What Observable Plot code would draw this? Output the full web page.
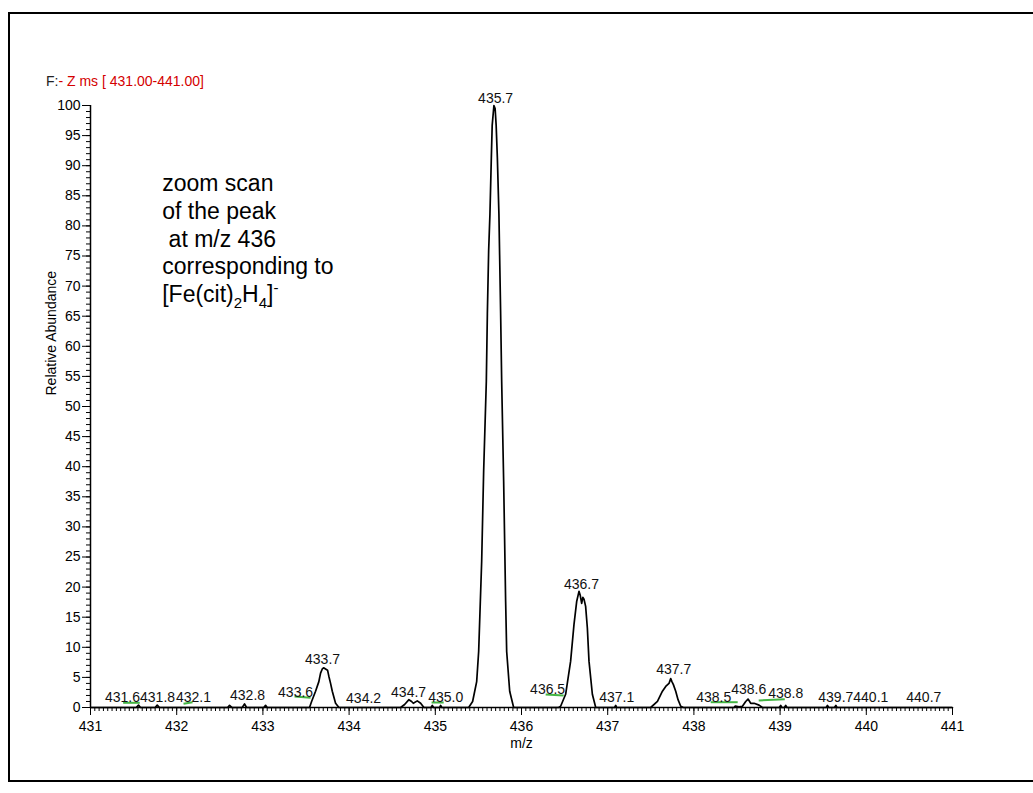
<!DOCTYPE html>
<html><head><meta charset="utf-8">
<script src="https://cdn.jsdelivr.net/npm/d3@7"></script>
<script src="https://cdn.jsdelivr.net/npm/@observablehq/plot@0.6"></script>
<style>
html,body{margin:0;padding:0;background:#fff;overflow:hidden;width:1033px;height:793px;}
#frame{position:absolute;left:8px;top:12px;width:1100px;height:770px;border:2px solid #000;box-sizing:border-box;}
#title{position:absolute;left:46px;top:73px;font:14px "Liberation Sans",Arial,sans-serif;white-space:pre;line-height:16px;}
#chart{position:absolute;left:0;top:90px;}
svg text{white-space:pre;}
</style></head><body>
<div id="frame"></div>
<div id="title"><span style="color:#222">F:</span><span style="color:#d40000">- Z ms [ 431.00-441.00]</span></div>
<div id="chart"></div>
<script>
// spectrum trace (m/z, relative abundance)
const traceMz = [431.00,431.53,431.557,431.58,431.75,431.774,431.80,432.59,432.613,432.64,432.76,432.787,432.81,433.01,433.031,433.05,
433.541,433.565,433.611,433.649,433.669,433.689,433.704,433.727,433.750,433.765,433.785,433.805,433.843,433.882,
434.598,434.644,434.694,434.725,434.745,434.791,434.830,434.868,434.95,434.965,434.98,435.05,435.062,435.075,
435.387,435.433,435.480,435.503,435.538,435.561,435.592,435.604,435.619,435.634,435.650,435.660,435.680,435.694,435.706,435.720,435.738,435.758,435.770,435.793,435.816,435.828,435.863,435.909,
436.431,436.454,436.512,436.570,436.609,436.640,436.667,436.682,436.698,436.712,436.725,436.744,436.764,436.783,436.822,436.861,
437.08,437.093,437.105,
437.499,437.577,437.635,437.673,437.711,437.731,437.745,437.762,437.789,437.816,437.847,437.878,
438.466,438.48,438.524,438.563,438.601,438.628,438.659,438.698,438.756,438.795,
438.99,439.007,439.02,439.05,439.065,439.08,439.535,439.549,439.565,439.63,439.647,439.66,441.00];
const traceAbund = [0,0,0.4,0,0,0.4,0,0,0.35,0,0,0.6,0,0,0.35,0,
0,1.0,2.7,4.3,5.7,6.4,6.6,6.4,6.2,5.2,4.0,2.7,0.7,0,
0,0.5,1.3,1.0,0.7,1.1,0.7,0,0,0.35,0,0,0.35,0,
0,1.0,4.3,9.3,24.3,39.3,54.2,65.4,75.9,82.0,91.3,96.7,100,99.5,96.7,91.3,82.0,65.4,54.2,37.6,17.6,9.3,2.7,0,
0,0.2,2.2,7.7,13.8,17.6,19.3,18.6,17.3,18.3,18.0,16.8,13.2,7.7,2.2,0,
0,0.35,0,
0,1.0,2.7,3.5,4.0,4.8,4.3,3.8,2.7,1.3,0.2,0,
0,0.25,0.1,0.2,1.0,1.4,0.7,0.7,0.4,0,
0,0.35,0,0,0.35,0,0,0.35,0,0,0.35,0,0];

// peak labels
const labelText = ["431.6","431.8","432.1","432.8","433.6","433.7","434.2","434.7","435.0","435.7","436.5","436.7","437.1","437.7","438.5","438.6","438.8","439.7","440.1","440.7"];
const labelMz = [431.371,431.778,432.195,432.822,433.379,433.692,434.168,434.690,435.120,435.700,436.303,436.696,437.104,437.766,438.230,438.636,439.065,439.646,440.052,440.667];
const labelAbund = [1.66,1.66,1.66,1.99,2.49,7.97,1.50,2.49,1.66,101.2,2.99,20.5,1.66,6.31,1.66,2.99,2.33,1.66,1.66,1.66];

// green marker segments
const greenX1 = [431.379,432.079,433.367,434.957,436.280,438.195,438.752];
const greenY1 = [0.78,0.61,1.83,0.83,2.16,0.88,1.16];
const greenX2 = [431.571,432.184,433.553,435.097,436.489,438.508,439.054];
const greenY2 = [0.78,0.88,1.61,0.83,1.99,0.88,1.38];

// axes
const xTicks = [431,432,433,434,435,436,437,438,439,440,441];
const yTicks = [0,5,10,15,20,25,30,35,40,45,50,55,60,65,70,75,80,85,90,95,100];
const xMinor = d3.range(0, 201).map(i => 431 + i * 0.05);
const yMinor = d3.range(0, 101);

// annotation
const annotLines = ["zoom scan", "of the peak", " at m/z 436", "corresponding to", "[Fe(cit)2H4]-"];
const formulaParts = [["[Fe(cit)", "n"], ["2", "sub"], ["H", "n"], ["4", "sub"], ["]", "n"], ["-", "sup"]];

const trace = traceMz.map((m, i) => ({mz: m, abundance: traceAbund[i]}));
const labels = labelText.map((t, i) => ({text: t, mz: labelMz[i], abundance: labelAbund[i]}));
const green = greenX1.map((x, i) => ({x1: x, y1: greenY1[i], x2: greenX2[i], y2: greenY2[i]}));

const font = '"Liberation Sans", Arial, sans-serif';
const chart = Plot.plot({
  width: 1033, height: 690,
  marginLeft: 90, marginRight: 81, marginTop: 15, marginBottom: 73,
  style: {fontFamily: font, fontSize: "14px", color: "#000", background: "transparent", overflow: "visible"},
  x: {domain: [431, 441]},
  y: {domain: [0, 100]},
  marks: [
    Plot.axisY(yMinor, {tickSize: 4, tickFormat: () => "", label: null}),
    Plot.axisY(yTicks, {tickSize: 8, tickPadding: 2, label: null, fontSize: 14, tickFormat: d => String(d)}),
    Plot.axisX(xMinor, {tickSize: 4, tickFormat: () => "", label: null}),
    Plot.axisX(xTicks, {tickSize: 8, tickPadding: 6, label: null, fontSize: 14, tickFormat: d => String(d)}),
    Plot.ruleX([431], {stroke: "#000", strokeWidth: 1.5}),
    Plot.ruleY([0], {stroke: "#000", strokeWidth: 1.5}),
    Plot.line(trace, {x: "mz", y: "abundance", stroke: "#000", strokeWidth: 1.7}),
    Plot.link(green, {x1: "x1", y1: "y1", x2: "x2", y2: "y2", stroke: "#44b544", strokeWidth: 2}),
    Plot.text(labels, {x: "mz", y: "abundance", text: "text", fontSize: 14, fill: "#111"}),
    Plot.text([annotLines.join("\n")], {x: 431.832, y: 89.1, textAnchor: "start", lineAnchor: "top", lineHeight: 1.21, fontSize: 23, fill: "#000"}),
    Plot.text(["Relative Abundance"], {frameAnchor: "left", rotate: -90, dx: -39, dy: -11, fontSize: 14, fill: "#000"}),
    Plot.text(["m/z"], {frameAnchor: "bottom", dy: 40, fontSize: 14, fill: "#000"})
  ]
});
document.getElementById("chart").appendChild(chart);

// sub/superscripts in the formula line (keep the parent line's own dy on its first character)
const raw = annotLines[annotLines.length - 1];
d3.select(chart).selectAll("tspan, text").filter(function() {
  return this.childElementCount === 0 && this.textContent === raw;
}).each(function() {
  const el = d3.select(this);
  el.text(null);
  let shift = 0;
  formulaParts.forEach(([s, kind]) => {
    const target = kind === "sub" ? 6 : kind === "sup" ? -9 : 0;
    const t = el.append("tspan").text(s);
    if (target - shift !== 0) t.attr("dy", target - shift);
    if (kind !== "n") t.attr("font-size", "15px");
    shift = target;
  });
});
</script>
</body></html>
